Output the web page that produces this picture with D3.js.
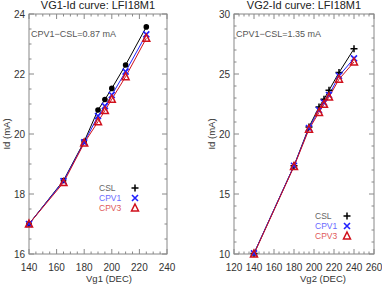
<!DOCTYPE html>
<html>
<head>
<meta charset="utf-8">
<script src="https://cdn.jsdelivr.net/npm/d3@7"></script>
<style>
body { margin:0; background:#fff; }
svg text { font-family: "Liberation Sans", Arial, sans-serif; }
</style>
</head>
<body>
<svg id="chart" width="382" height="284"></svg>
<script>
// VG1 sweep
var vg1 = [140, 165, 180, 190, 195, 200, 210, 225];
var csl1 = [17.0, 18.45, 19.75, 20.8, 21.15, 21.52, 22.3, 23.57];
var cpv1_1 = [17.0, 18.43, 19.72, 20.6, 20.93, 21.3, 22.08, 23.32];
var cpv3_1 = [17.0, 18.38, 19.7, 20.41, 20.78, 21.16, 21.91, 23.19];
// VG2 sweep
var vg2 = [140, 180, 195, 205, 210, 215, 225, 240];
var csl2 = [10.05, 17.35, 20.58, 22.25, 22.9, 23.64, 25.12, 27.1];
var cpv1_2 = [10.05, 17.35, 20.5, 22.0, 22.62, 23.25, 24.85, 26.3];
var cpv3_2 = [10.0, 17.3, 20.4, 21.8, 22.47, 23.08, 24.56, 26.0];

var xTicks1 = [140, 160, 180, 200, 220, 240];
var yTicks1 = [16, 18, 20, 22, 24];
var xTicks2 = [120, 140, 160, 180, 200, 220, 240, 260];
var yTicks2 = [10, 15, 20, 25, 30];
var seriesNames = ["CSL", "CPV1", "CPV3"];

var svg = d3.select("#chart");

function panel(p) {
    var x = d3.scaleLinear().domain(p.xd).range([p.left, p.right]);
    var y = d3.scaleLinear().domain(p.yd).range([254, 14]);
    var g = svg.append("g");

    // minor + major ticks on all four sides, pointing inward
    var xmin = d3.range(p.xd[0], p.xd[1] + 0.001, p.xm);
    var ymin = d3.range(p.yd[0], p.yd[1] + 0.001, p.ym);
    xmin.forEach(function(v){
        var len = p.xt.indexOf(v) >= 0 ? 5 : 2.5;
        g.append("line").attr("x1", x(v)).attr("x2", x(v)).attr("y1", 254).attr("y2", 254 - len).attr("stroke", "#888");
        g.append("line").attr("x1", x(v)).attr("x2", x(v)).attr("y1", 14).attr("y2", 14 + len).attr("stroke", "#888");
    });
    ymin.forEach(function(v){
        var isMaj = p.yt.some(function(t){ return Math.abs(t - v) < 1e-6; });
        var len = isMaj ? 5 : 2.5;
        g.append("line").attr("y1", y(v)).attr("y2", y(v)).attr("x1", p.left).attr("x2", p.left + len).attr("stroke", "#888");
        g.append("line").attr("y1", y(v)).attr("y2", y(v)).attr("x1", p.right).attr("x2", p.right - len).attr("stroke", "#888");
    });
    g.append("rect").attr("x", p.left).attr("y", 14).attr("width", p.right - p.left).attr("height", 240)
        .attr("fill", "none").attr("stroke", "#888");

    g.selectAll(".xl").data(p.xt).enter().append("text")
        .attr("x", function(d){ return x(d); }).attr("y", 271)
        .attr("text-anchor", "middle").attr("font-size", 10).attr("fill", "#333").text(function(d){ return d; });
    g.selectAll(".yl").data(p.yt).enter().append("text")
        .attr("x", p.left - 4).attr("y", function(d){ return y(d) + 3.5; })
        .attr("text-anchor", "end").attr("font-size", 10).attr("fill", "#333").text(function(d){ return d; });

    g.append("text").attr("x", p.tx).attr("y", 9).attr("text-anchor", "middle")
        .attr("font-size", 11).attr("fill", "#222").text(p.title);
    g.append("text").attr("x", p.xlx).attr("y", 282).attr("text-anchor", "middle")
        .attr("font-size", 9.5).attr("fill", "#333").text(p.xlab);
    g.append("text").attr("transform", "translate(" + p.ylx + ",134) rotate(-90)")
        .attr("text-anchor", "middle").attr("font-size", 9.5).attr("fill", "#333").text("Id (mA)");
    g.append("text").attr("x", p.left + 2).attr("y", 37).attr("font-size", 9).attr("fill", "#555").text(p.note);

    var cols = ["#000", "#2020ff", "#d0101c"];
    var line = d3.line().x(function(d){ return x(d[0]); }).y(function(d){ return y(d[1]); });
    p.ys.forEach(function(ys, k){
        var pts = p.xs.map(function(v, i){ return [v, ys[i]]; });
        g.append("path").datum(pts).attr("d", line).attr("fill", "none").attr("stroke", cols[k]).attr("stroke-width", 1);
    });
    p.ys.forEach(function(ys, k){
        var pts = p.xs.map(function(v, i){ return [v, ys[i]]; });
        pts.forEach(function(d){ marker(g, k === 0 ? p.cslMark : k, x(d[0]), y(d[1])); });
    });

    // legend
    var lc = ["#666", "#6a6aff", "#e05a5a"];
    seriesNames.forEach(function(n, k){
        var ly = p.ly + k * p.lstep;
        g.append("text").attr("x", p.lx).attr("y", ly + 3).attr("font-size", 8.5).attr("fill", lc[k]).text(n);
        marker(g, k === 0 ? "plus" : k, p.lmx, ly);
    });
}

function marker(g, kind, cx, cy) {
    if (kind === "dot") {
        g.append("circle").attr("cx", cx).attr("cy", cy).attr("r", 2.8).attr("fill", "#000");
    } else if (kind === "plus" || kind === 0) {
        g.append("path").attr("d", "M" + (cx - 3.5) + "," + cy + "h7M" + cx + "," + (cy - 3.5) + "v7")
            .attr("stroke", "#000").attr("stroke-width", 1.5);
    } else if (kind === 1) {
        g.append("path").attr("d", "M" + (cx - 3) + "," + (cy - 3) + "l6,6M" + (cx + 3) + "," + (cy - 3) + "l-6,6")
            .attr("stroke", "#2020ff").attr("stroke-width", 1.6);
    } else {
        g.append("path").attr("d", "M" + cx + "," + (cy - 4) + "L" + (cx + 3.5) + "," + (cy + 3) + "L" + (cx - 3.5) + "," + (cy + 3) + "Z")
            .attr("fill", "none").attr("stroke", "#d0101c").attr("stroke-width", 1.5);
    }
}

panel({ xd: [140, 240], yd: [16, 24], left: 29, right: 167, xt: xTicks1, yt: yTicks1, xm: 5, ym: 0.5,
    title: "VG1-Id curve: LFI18M1", tx: 98, xlab: "Vg1 (DEC)", xlx: 109, ylx: 10,
    note: "CPV1\u2212CSL=0.87 mA", xs: vg1, ys: [csl1, cpv1_1, cpv3_1], cslMark: "dot",
    lx: 99, lmx: 135, ly: 188, lstep: 10 });
panel({ xd: [120, 260], yd: [10, 30], left: 234, right: 374, xt: xTicks2, yt: yTicks2, xm: 5, ym: 1,
    title: "VG2-Id curve: LFI18M1", tx: 304, xlab: "Vg2 (DEC)", xlx: 323, ylx: 215,
    note: "CPV1\u2212CSL=1.35 mA", xs: vg2, ys: [csl2, cpv1_2, cpv3_2], cslMark: "plus",
    lx: 315, lmx: 347, ly: 216, lstep: 10 });
</script>
</body>
</html>
